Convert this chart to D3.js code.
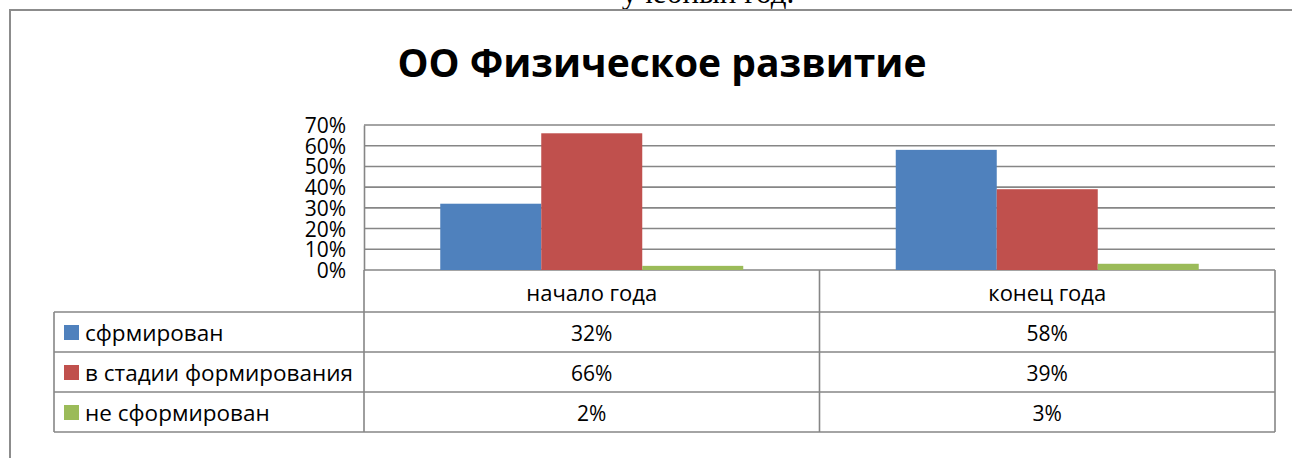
<!DOCTYPE html>
<html>
<head>
<meta charset="utf-8">
<script src="https://cdn.jsdelivr.net/npm/d3@7"></script>
<style>
  body { margin: 0; background: #fff; }
  text { font-family: "Open Sans", sans-serif; fill: #000; }
</style>
</head>
<body>
<div class="chart"></div>
<script>
// data
var categories = ["начало года", "конец года"];
var seriesNames = ["сфрмирован", "в стадии формирования", "не сформирован"];
var seriesColors = ["#4f81bd", "#c0504d", "#9bbb59"];
var values = [
  [0.32, 0.58],
  [0.66, 0.39],
  [0.02, 0.03]
];
var yTicks = [0, 0.1, 0.2, 0.3, 0.4, 0.5, 0.6, 0.7];

var width = 1292, height = 458;
var grid = "#868686";

var svg = d3.select(".chart").append("svg")
    .attr("width", width)
    .attr("height", height);

// page text cut off above the chart
svg.append("text")
    .attr("x", 708).attr("y", 3)
    .attr("text-anchor", "middle")
    .style("font-family", "'Liberation Serif', serif")
    .style("font-size", "31px")
    .text("учебный год.");

// chart frame
svg.append("path")
    .attr("d", "M10,458 L10,10 L1292,10")
    .attr("fill", "none")
    .attr("stroke", "#8c8c8c")
    .attr("stroke-width", 2);

svg.append("text")
    .attr("x", 662).attr("y", 77)
    .attr("text-anchor", "middle")
    .style("font-size", "39px")
    .style("font-weight", "bold")
    .text("ОО Физическое развитие");

// scales
var x = d3.scaleBand().domain(categories).range([364, 1275]);
var xs = d3.scaleBand().domain(d3.range(seriesNames.length))
    .range([0, x.bandwidth()]).paddingOuter(0.755);
var y = d3.scaleLinear().domain([0, 0.7]).range([270, 125]);

// gridlines
svg.append("g").selectAll("line")
    .data(yTicks)
    .enter().append("line")
    .attr("x1", 364).attr("x2", 1275)
    .attr("y1", function(d){ return y(d); })
    .attr("y2", function(d){ return y(d); })
    .attr("stroke", grid).attr("stroke-width", 1.6);

// y axis labels
var yAxis = svg.append("g")
    .attr("transform", "translate(364,0)")
    .call(d3.axisLeft(y).tickValues(yTicks).tickFormat(d3.format(".0%")).tickSize(0).tickPadding(18));
yAxis.select(".domain").attr("stroke", grid).attr("stroke-width", 1.6);
yAxis.selectAll("text")
    .style("font-family", "'Open Sans', sans-serif")
    .style("font-size", "21px")
    .attr("dy", "0.36em");

// bars
seriesNames.forEach(function(s, si){
  svg.append("g").selectAll("rect")
    .data(values[si])
    .enter().append("rect")
    .attr("x", function(d, i){ return x(categories[i]) + xs(si); })
    .attr("width", xs.bandwidth())
    .attr("y", function(d){ return y(d); })
    .attr("height", function(d){ return y(0) - y(d); })
    .attr("fill", seriesColors[si]);
});

// data table
var rowTop = 312, rowH = 40, tableLeft = 54;
var rowY = function(i){ return rowTop + i * rowH; };
var table = svg.append("g").attr("stroke", grid).attr("stroke-width", 1.6);

// vertical lines
[364].concat(categories.map(function(c){ return x(c) + x.bandwidth(); })).forEach(function(xx){
  table.append("line").attr("x1", xx).attr("x2", xx)
    .attr("y1", y(0)).attr("y2", rowY(seriesNames.length));
});
table.append("line").attr("x1", tableLeft).attr("x2", tableLeft)
    .attr("y1", rowTop).attr("y2", rowY(seriesNames.length));
// horizontal lines
d3.range(seriesNames.length + 1).forEach(function(i){
  table.append("line").attr("x1", tableLeft).attr("x2", 1275)
    .attr("y1", rowY(i)).attr("y2", rowY(i));
});

// header
svg.append("g").selectAll("text")
    .data(categories)
    .enter().append("text")
    .attr("x", function(d){ return x(d) + x.bandwidth() / 2; })
    .attr("y", (y(0) + rowTop) / 2 + 2)
    .attr("dy", "0.36em")
    .attr("text-anchor", "middle")
    .style("font-size", "22px")
    .text(function(d){ return d; });

var pct = d3.format(".0%");
seriesNames.forEach(function(s, si){
  var cy = rowY(si) + rowH / 2;
  svg.append("rect")
    .attr("x", 64).attr("y", cy - 7)
    .attr("width", 15).attr("height", 15)
    .attr("fill", seriesColors[si]);
  svg.append("text")
    .attr("x", 85).attr("y", cy + 1)
    .attr("dy", "0.36em")
    .style("font-size", "22.5px")
    .text(s);
  svg.append("g").selectAll("text")
    .data(values[si])
    .enter().append("text")
    .attr("x", function(d, i){ return x(categories[i]) + x.bandwidth() / 2; })
    .attr("y", cy + 1)
    .attr("dy", "0.36em")
    .attr("text-anchor", "middle")
    .style("font-size", "21px")
    .text(function(d){ return pct(d); });
});
</script>
</body>
</html>
